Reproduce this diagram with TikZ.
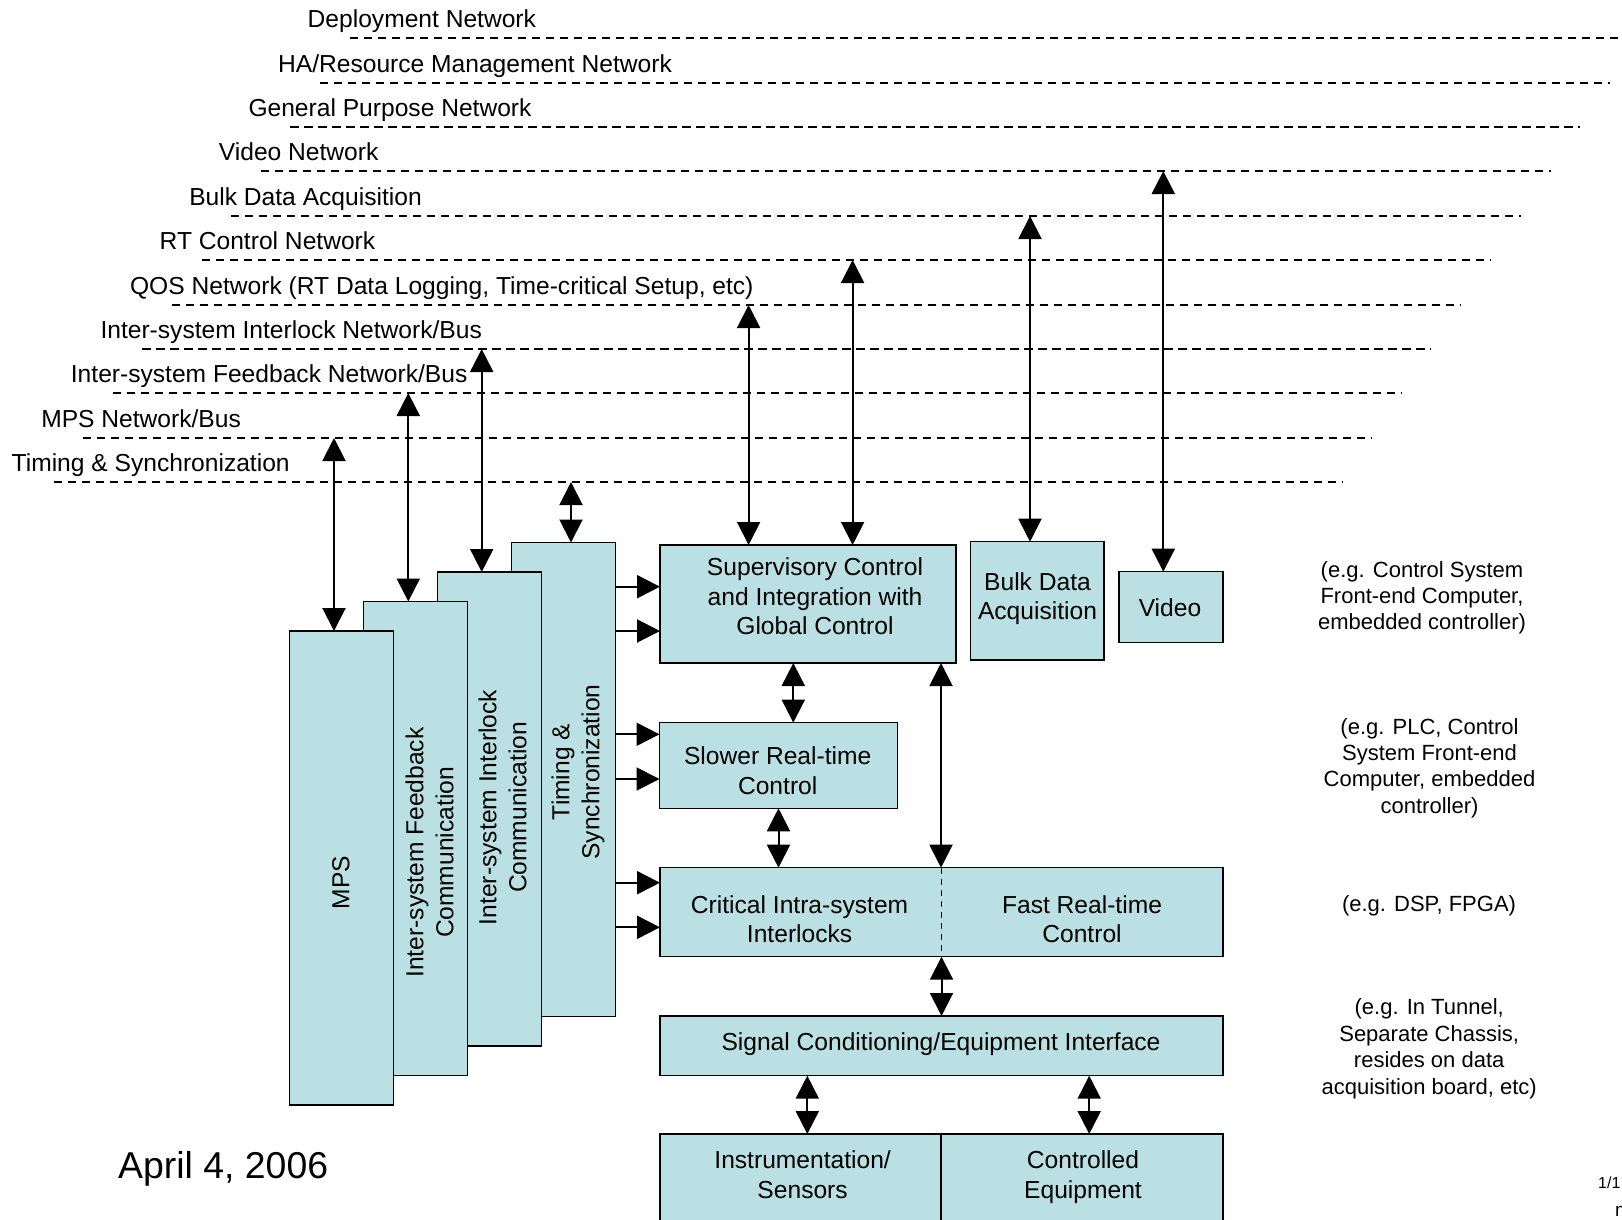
\documentclass[tikz,border=0pt]{standalone}
\usepackage{fontspec}
\setmainfont{Liberation Sans}
\usetikzlibrary{arrows.meta}
\definecolor{boxfill}{HTML}{BBE0E3}
\begin{document}
\begin{tikzpicture}[x=1pt,y=-1pt,
  box/.style={draw=black,line width=1.5pt,fill=boxfill,inner sep=0pt,outer sep=0pt},
  net/.style={line width=1.8pt,dash pattern=on 8.3pt off 5.7pt},
  arr/.style={line width=2pt,-{Triangle[length=23pt,width=23pt]}},
  darr/.style={line width=2pt,{Triangle[length=23pt,width=23pt]}-{Triangle[length=23pt,width=23pt]}},
  txt/.style={font=\fontsize{24.6}{29.5}\selectfont,align=center,inner sep=0pt},
  vtxt/.style={font=\fontsize{24.6}{30}\selectfont,align=center,inner sep=0pt,rotate=90},
  note/.style={font=\fontsize{22}{26.4}\selectfont,align=center,inner sep=0pt},
  lbl/.style={font=\fontsize{24.6}{29}\selectfont,anchor=base west,inner sep=0pt}]
\useasboundingbox (0,0) rectangle (1622,1220);
\clip (0,0) rectangle (1622,1220);

% network lines and labels
\foreach \i/\t in {0/{Deployment Network},1/{HA/Resource Management Network},2/{General Purpose Network},3/{Video Network},4/{Bulk Data Acquisition},5/{RT Control Network},6/{QOS Network (RT Data Logging, Time-critical Setup, etc)},7/{Inter-system Interlock Network/Bus},8/{Inter-system Feedback Network/Bus},9/{MPS Network/Bus},10/{Timing \& Synchronization}}{
  \pgfmathsetmacro\yy{round(38.3+44.4*\i)}
  \pgfmathsetmacro\xl{349.5-29.6*\i}
  \pgfmathsetmacro\xr{1640-29.8*\i}
  \node[lbl] (lab\i) at (\xl-42,\yy-10.5) {\t};
  \coordinate (nl\i) at (\xl,\yy);
  \coordinate (nr\i) at (\xr,\yy);
  \draw[net] (nl\i) -- (nr\i);
}

% left stack (back to front)
\node[box,minimum width=104pt,minimum height=474pt] (ts) at (563.5,779.5) {};
\node[box,minimum width=104pt,minimum height=474pt] (il) at (489.5,809) {};
\node[box,minimum width=104pt,minimum height=474pt] (fb) at (415.5,838.5) {};
\node[box,minimum width=104pt,minimum height=474pt] (mps) at (341.5,868) {};

% right boxes
\node[box,minimum width=296pt,minimum height=118pt] (sup) at (808,604) {};
\node[box,minimum width=133.3pt,minimum height=118.3pt] (bulk) at (1037.35,600.85) {};
\node[box,minimum width=104pt,minimum height=71pt] (vid) at (1171,607.2) {};
\node[box,minimum width=238pt,minimum height=85.6pt] (slow) at (778.5,765.5) {};
\node[box,minimum width=563pt,minimum height=89pt] (cf) at (941.5,912.2) {};
\draw[line width=1.4pt,dash pattern=on 6pt off 5pt] (cf.north) -- (cf.south);
\node[box,minimum width=563pt,minimum height=59.7pt] (sig) at (941.5,1045.85) {};
\node[box,minimum width=281pt,minimum height=106pt] (ins) at (800.5,1187) {};
\node[box,minimum width=282pt,minimum height=106pt] (ctl) at (1082,1187) {};

% texts in boxes
\node[vtxt] (tmps) at (340.8,882.5) {MPS};
\node[vtxt] (tfb) at (429.5,852.5) {Inter-system Feedback\\Communication};
\node[vtxt] (til) at (502.5,807.5) {Inter-system Interlock\\Communication};
\node[vtxt] (tts) at (578,772) {Timing \&\\Synchronization};
\node[txt] (tsup) at (815,596.3) {Supervisory Control\\and Integration with\\Global Control};
\node[txt] (tbulk) at (1037.5,598.5) {Bulk Data\\Acquisition};
\node[txt] (tvid) at (1170,607.5) {Video};
\node[txt] (tslow) at (777.7,770.5) {Slower Real-time\\Control};
\node[txt] (tcrit) at (799.6,919) {Critical Intra-system\\Interlocks};
\node[txt] (tfast) at (1082,919) {Fast Real-time\\Control};
\node[txt] (tsig) at (941,1043.7) {Signal Conditioning/Equipment Interface};
\node[txt] (tins) at (802.6,1174.5) {Instrumentation/\\Sensors};
\node[txt] (tctl) at (1083,1177) {Controlled\\Equipment};

% notes
\node[note] (n1) at (1422,597.8) {(e.g. Control System\\Front-end Computer,\\embedded controller)};
\node[note] (n2) at (1429.5,767.9) {(e.g. PLC, Control\\System Front-end\\Computer, embedded\\controller)};
\node[note] (n3) at (1429,906.3) {(e.g. DSP, FPGA)};
\node[note] (n4) at (1429.2,1048.7) {(e.g. In Tunnel,\\Separate Chassis,\\resides on data\\acquisition board, etc)};

\node[anchor=base west,inner sep=0pt,font=\fontsize{37.4}{40}\selectfont] (date) at (118,1178.3) {April 4, 2006};
\node[anchor=base west,inner sep=0pt,font=\fontsize{16}{18}\selectfont] (page) at (1598,1188.3) {1/1};
\node[anchor=base west,inner sep=0pt,font=\fontsize{19}{20}\selectfont] (cut) at (1615,1216.7) {m};

% vertical arrows to network lines
\coordinate (cmps) at (334,438);
\coordinate (cfb) at (408.3,393);
\coordinate (cil) at (481.7,349);
\coordinate (cts) at (571,482);
\coordinate (cqos) at (748.6,305);
\coordinate (crt) at (852.6,260);
\coordinate (cbulk) at (1030,216);
\coordinate (cvid) at (1163.3,171);
\draw[darr] (cmps) -- (cmps |- mps.north);
\draw[darr] (cfb) -- (cfb |- fb.north);
\draw[darr] (cil) -- (cil |- il.north);
\draw[darr] (cts) -- (cts |- ts.north);
\draw[darr] (cqos) -- (cqos |- sup.north);
\draw[darr] (crt) -- (crt |- sup.north);
\draw[darr] (cbulk) -- (cbulk |- bulk.north);
\draw[darr] (cvid) -- (cvid |- vid.north);

% inter-box vertical arrows
\coordinate (s1) at (793.3,0);
\coordinate (s2) at (941,0);
\coordinate (s3) at (807.3,0);
\coordinate (s4) at (1089.2,0);
\draw[darr] (s1 |- sup.south) -- (s1 |- slow.north);
\draw[darr] (slow.south) -- (slow.south |- cf.north);
\draw[darr] (s2 |- sup.south) -- (s2 |- cf.north);
\draw[darr] (cf.south) -- (sig.north);
\draw[darr] (s3 |- sig.south) -- (s3 |- ins.north);
\draw[darr] (s4 |- sig.south) -- (s4 |- ctl.north);

% timing horizontal arrows
\coordinate (h1) at (0,586.7);
\coordinate (h2) at (0,631);
\coordinate (h3) at (0,734.3);
\coordinate (h4) at (0,779);
\coordinate (h5) at (0,882.7);
\coordinate (h6) at (0,927.3);
\draw[arr] (ts.east |- h1) -- (sup.west |- h1);
\draw[arr] (ts.east |- h2) -- (sup.west |- h2);
\draw[arr] (ts.east |- h3) -- (slow.west |- h3);
\draw[arr] (ts.east |- h4) -- (slow.west |- h4);
\draw[arr] (ts.east |- h5) -- (cf.west |- h5);
\draw[arr] (ts.east |- h6) -- (cf.west |- h6);
\end{tikzpicture}
\end{document}
